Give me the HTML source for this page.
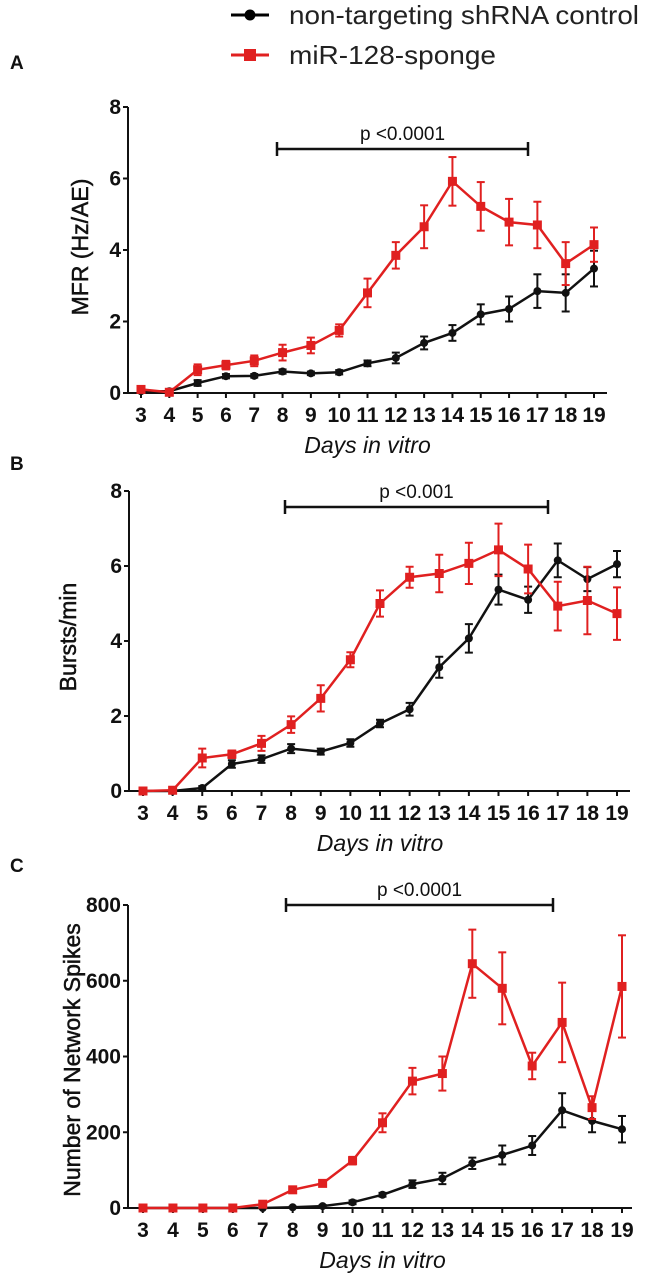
<!DOCTYPE html>
<html><head><meta charset="utf-8"><style>
html,body{margin:0;padding:0;background:#fff;}
svg{display:block;}
.tick{font-family:"Liberation Sans Narrow","Liberation Sans",sans-serif;font-weight:bold;font-size:21px;fill:#111;}
.lab{font-family:"Liberation Sans",sans-serif;font-size:23px;fill:#111;stroke:#111;stroke-width:0.5;}
.xl{font-family:"Liberation Sans",sans-serif;font-style:italic;font-size:23px;fill:#111;}
.pl{font-family:"Liberation Sans",sans-serif;font-size:19px;fill:#111;}
.panel{font-family:"Liberation Sans",sans-serif;font-weight:bold;font-size:19px;fill:#111;}
.leg{font-family:"Liberation Sans",sans-serif;font-size:26px;fill:#222;}
</style></head><body>
<svg id="fig" width="645" height="1280" viewBox="0 0 645 1280" xmlns="http://www.w3.org/2000/svg">
<g>
<g>
<line x1="231" y1="15" x2="269" y2="15" stroke="#000" stroke-width="3"/><circle cx="250" cy="15" r="5.5" fill="#000"/>
<text class="leg" x="289" y="24" textLength="350" lengthAdjust="spacingAndGlyphs">non-targeting shRNA control</text></g>
<g>
<line x1="231" y1="55" x2="269" y2="55" stroke="#e02020" stroke-width="3"/><rect x="244" y="49" width="12" height="12" fill="#e02020"/>
<text class="leg" x="289" y="64" textLength="207" lengthAdjust="spacingAndGlyphs">miR-128-sponge</text></g>
</g>
</svg>
<script>
const days=[3,4,5,6,7,8,9,10,11,12,13,14,15,16,17,18,19];
const aRed=[0.1,0.02,0.65,0.78,0.9,1.13,1.33,1.75,2.8,3.85,4.65,5.92,5.22,4.78,4.7,3.62,4.15];
const aRedErr=[0.05,0.03,0.15,0.12,0.15,0.22,0.22,0.17,0.4,0.37,0.6,0.68,0.68,0.65,0.65,0.6,0.48];
const aBlk=[0.05,0.05,0.28,0.47,0.48,0.6,0.55,0.58,0.83,0.98,1.4,1.68,2.2,2.35,2.85,2.8,3.48];
const aBlkErr=[0.02,0.02,0.08,0.06,0.05,0.06,0.05,0.06,0.08,0.15,0.18,0.22,0.28,0.35,0.47,0.52,0.5];
const bRed=[0,0.02,0.88,0.98,1.27,1.77,2.47,3.5,5.0,5.7,5.8,6.07,6.43,5.92,4.93,5.08,4.73];
const bRedErr=[0,0.02,0.25,0.1,0.2,0.22,0.35,0.2,0.35,0.28,0.5,0.55,0.7,0.65,0.65,0.9,0.7];
const bBlk=[0,0,0.08,0.72,0.85,1.13,1.05,1.28,1.8,2.18,3.3,4.07,5.37,5.1,6.15,5.65,6.05];
const bBlkErr=[0,0,0.05,0.1,0.1,0.12,0.08,0.1,0.1,0.17,0.28,0.38,0.4,0.35,0.45,0.32,0.35];
const cRed=[0,0,0,0,10,48,65,125,225,335,355,645,580,375,490,265,585];
const cRedErr=[0,0,0,0,5,8,8,10,25,35,45,90,95,35,105,30,135];
const cBlk=[0,0,0,0,0,2,5,15,35,63,78,118,140,165,258,230,208];
const cBlkErr=[0,0,0,0,0,2,3,5,5,10,15,15,25,25,45,30,35];
const aTicks=[0,2,4,6,8], bTicks=[0,2,4,6,8], cTicks=[0,200,400,600,800];
const NS="http://www.w3.org/2000/svg";
const svg=document.getElementById('fig');
function mk(tag,attrs,parent,txt){const e=document.createElementNS(NS,tag);for(const k in attrs)e.setAttribute(k,attrs[k]);if(txt!==undefined)e.textContent=txt;(parent||svg).appendChild(e);return e;}
function panel(p){
  const g=mk('g',{});
  
  
  const xs=d=>p.x0+(d-days[0])*(p.x1-p.x0)/(days[days.length-1]-days[0]);
  const ys=v=>p.y0-(v/p.ymax)*(p.y0-p.ytop);
  const pl=mk('text',{x:10,y:p.panelY,class:'panel'},g,p.id.toUpperCase());
  
  
  const ya=mk('line',{x1:p.ax,y1:p.ytop,x2:p.ax,y2:p.y0,stroke:'#111','stroke-width':2},g);
  
  
  const xa=mk('line',{x1:p.ax,y1:p.y0,x2:p.axEnd,y2:p.y0,stroke:'#111','stroke-width':2},g);
  
  
  p.ticks.forEach(t=>{const y=ys(t);
    mk('line',{x1:p.ax-5,y1:y,x2:p.ax,y2:y,stroke:'#111','stroke-width':2},g);
    const tl=mk('text',{x:p.ax-7,y:y+7,class:'tick','text-anchor':'end'},g,t);
    
    });
  days.forEach(d=>{const x=xs(d);
    mk('line',{x1:x,y1:p.y0,x2:x,y2:p.y0+5,stroke:'#111','stroke-width':2},g);
    const tl=mk('text',{x:x,y:p.y0+29,class:'tick','text-anchor':'middle'},g,d);
    
    });
  const xt=mk('text',{x:(p.x0+p.x1)/2,y:p.y0+60,class:'xl','text-anchor':'middle'},g,'Days in vitro');
  
  
  const yt=mk('text',{x:0,y:0,class:'lab','text-anchor':'middle',transform:`translate(${p.ylx},${p.yly}) rotate(-90)`},g,p.ylabel);
  
  
  const br=mk('g',{},g);
  
  
  mk('line',{x1:p.pb[0],y1:p.pby,x2:p.pb[1],y2:p.pby,stroke:'#111','stroke-width':2.5},br);
  mk('line',{x1:p.pb[0],y1:p.pby-7,x2:p.pb[0],y2:p.pby+7,stroke:'#111','stroke-width':2.5},br);
  mk('line',{x1:p.pb[1],y1:p.pby-7,x2:p.pb[1],y2:p.pby+7,stroke:'#111','stroke-width':2.5},br);
  mk('text',{x:(p.pb[0]+p.pb[1])/2,y:p.pby-9,class:'pl','text-anchor':'middle'},br,p.ptext);
  [[p.blk,p.blkE,'#111','circle','control'],[p.red,p.redE,'#e02020','square','sponge']].forEach(s=>{
    const sg=mk('g',{},g);
    
    
    const pts=s[0].map((v,i)=>xs(days[i])+','+ys(v)).join(' ');
    mk('polyline',{points:pts,fill:'none',stroke:s[2],'stroke-width':2.5},sg);
    s[0].forEach((v,i)=>{const x=xs(days[i]),e=s[1][i];
      if(e>0){mk('line',{x1:x,y1:ys(v+e),x2:x,y2:ys(v-e),stroke:s[2],'stroke-width':2},sg);
        mk('line',{x1:x-4,y1:ys(v+e),x2:x+4,y2:ys(v+e),stroke:s[2],'stroke-width':2},sg);
        mk('line',{x1:x-4,y1:ys(v-e),x2:x+4,y2:ys(v-e),stroke:s[2],'stroke-width':2},sg);}
      let m;
      if(s[3]==='circle')m=mk('circle',{cx:x,cy:ys(v),r:4,fill:s[2]},sg);
      else m=mk('rect',{x:x-4.5,y:ys(v)-4.5,width:9,height:9,fill:s[2]},sg);
      
      });
  });
}
panel({id:'a',panelY:69,ax:128,axEnd:607,x0:141,x1:594,y0:393,ytop:107,ymax:8,ticks:aTicks,ylabel:'MFR (Hz/AE)',ylx:88,yly:247,pb:[277,528],pby:149,ptext:'p <0.0001',red:aRed,redE:aRedErr,blk:aBlk,blkE:aBlkErr});
panel({id:'b',panelY:470,ax:129,axEnd:630,x0:143,x1:617,y0:791,ytop:491,ymax:8,ticks:bTicks,ylabel:'Bursts/min',ylx:76,yly:637,pb:[285,548],pby:507,ptext:'p <0.001',red:bRed,redE:bRedErr,blk:bBlk,blkE:bBlkErr});
panel({id:'c',panelY:872,ax:128,axEnd:632,x0:143,x1:622,y0:1208,ytop:905,ymax:800,ticks:cTicks,ylabel:'Number of Network Spikes',ylx:80,yly:1060,pb:[286,553],pby:905,ptext:'p <0.0001',red:cRed,redE:cRedErr,blk:cBlk,blkE:cBlkErr});
</script>
</body></html>
